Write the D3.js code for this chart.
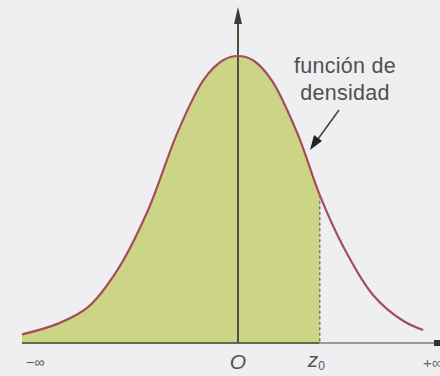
<!DOCTYPE html>
<html>
<head>
<meta charset="utf-8">
<script src="https://cdn.jsdelivr.net/npm/d3@7"></script>
<style>
  html, body { margin: 0; padding: 0; background: #efeff1; }
  svg { display: block; }
  text { font-family: "Liberation Sans", Arial, sans-serif; }
</style>
</head>
<body>
<svg id="chart" width="440" height="376"></svg>
<script>
// Density curve, read as points (z in standard units, density value)
const curveZ = [-2.88, -2.4, -2.0, -1.6, -1.2, -0.8, -0.45, -0.2, 0, 0.2, 0.45, 0.8, 1.09, 1.4, 1.8, 2.2, 2.47];
const curveV = [0.012, 0.027, 0.050, 0.103, 0.185, 0.295, 0.368, 0.394, 0.400, 0.394, 0.366, 0.290, 0.206, 0.135, 0.067, 0.031, 0.018];
const z0 = 1.09;
const axisLabels = ["\u2212\u221e", "O", "z", "+\u221e"];
const caption = ["función de", "densidad"];

const svg = d3.select("#chart");
const x = d3.scaleLinear().domain([0, 1]).range([238, 313]);
const y = d3.scaleLinear().domain([0, 0.4]).range([343, 56]);

const pts = curveZ.map((z, i) => ({ z, v: curveV[i] }));
const interp = d3.curveCatmullRom.alpha(0.5);
const zLeft = curveZ[0];

const line = d3.line().x(d => x(d.z)).y(d => y(d.v)).curve(interp);
const area = d3.area().x(d => x(d.z)).y0(y(0)).y1(d => y(d.v)).curve(interp);

// shaded region from the left end up to z0
svg.append("defs").append("clipPath").attr("id", "leftOfZ0")
  .append("rect").attr("x", 0).attr("y", 0)
  .attr("width", x(z0)).attr("height", 376);

svg.append("path").datum(pts)
  .attr("d", area)
  .attr("fill", "#ccd586")
  .attr("clip-path", "url(#leftOfZ0)");

// dashed line at z0
svg.append("line")
  .attr("x1", x(z0)).attr("x2", x(z0))
  .attr("y1", y(curveV[curveZ.indexOf(z0)])).attr("y2", y(0))
  .attr("stroke", "#7a7d6a").attr("stroke-width", 1.6)
  .attr("stroke-dasharray", "3,2.5");

// horizontal axis
svg.append("line")
  .attr("x1", x(zLeft)).attr("x2", x(z0))
  .attr("y1", y(0)).attr("y2", y(0))
  .attr("stroke", "#63674c").attr("stroke-width", 2.2);
svg.append("line")
  .attr("x1", x(z0)).attr("x2", 436)
  .attr("y1", y(0)).attr("y2", y(0))
  .attr("stroke", "#9a9a9e").attr("stroke-width", 2);
svg.append("rect").attr("x", 434).attr("y", y(0) - 3).attr("width", 6).attr("height", 6)
  .attr("fill", "#333");

// vertical axis with arrow
svg.append("line")
  .attr("x1", x(0)).attr("x2", x(0))
  .attr("y1", y(0)).attr("y2", 20)
  .attr("stroke", "#4e5040").attr("stroke-width", 2);
svg.append("path")
  .attr("d", `M${x(0)},7 L${x(0) + 4},24 L${x(0) - 4},24 Z`)
  .attr("fill", "#3a3a3a");

// density curve
svg.append("path").datum(pts)
  .attr("d", line)
  .attr("fill", "none")
  .attr("stroke", "#a34e5c")
  .attr("stroke-width", 2.2);

// axis labels
svg.append("text").attr("x", x(zLeft) + 4).attr("y", 367)
  .attr("font-size", 14).attr("fill", "#555").text(axisLabels[0]);
svg.append("text").attr("x", x(0)).attr("y", 369)
  .attr("text-anchor", "middle").attr("font-size", 21).attr("font-style", "italic")
  .attr("fill", "#555").text(axisLabels[1]);
const zl = svg.append("text").attr("x", x(z0) - 12).attr("y", 367)
  .attr("font-size", 21).attr("font-style", "italic").attr("fill", "#555");
zl.append("tspan").text(axisLabels[2]);
zl.append("tspan").attr("font-size", 12).attr("font-style", "normal").attr("dy", 3).text("0");
svg.append("text").attr("x", 423).attr("y", 368)
  .attr("font-size", 15).attr("fill", "#666").text(axisLabels[3]);

// caption with pointer
svg.append("text").attr("x", 345).attr("y", 73)
  .attr("text-anchor", "middle").attr("font-size", 21.5).attr("letter-spacing", 0.3)
  .attr("fill", "#505050").text(caption[0]);
svg.append("text").attr("x", 345).attr("y", 100)
  .attr("text-anchor", "middle").attr("font-size", 21.5).attr("letter-spacing", 0.3)
  .attr("fill", "#505050").text(caption[1]);
svg.append("line")
  .attr("x1", 339).attr("y1", 110).attr("x2", 318).attr("y2", 139)
  .attr("stroke", "#444").attr("stroke-width", 1.6);
svg.append("path")
  .attr("d", "M310,150 L314,135 L322,141 Z")
  .attr("fill", "#222");
</script>
</body>
</html>
